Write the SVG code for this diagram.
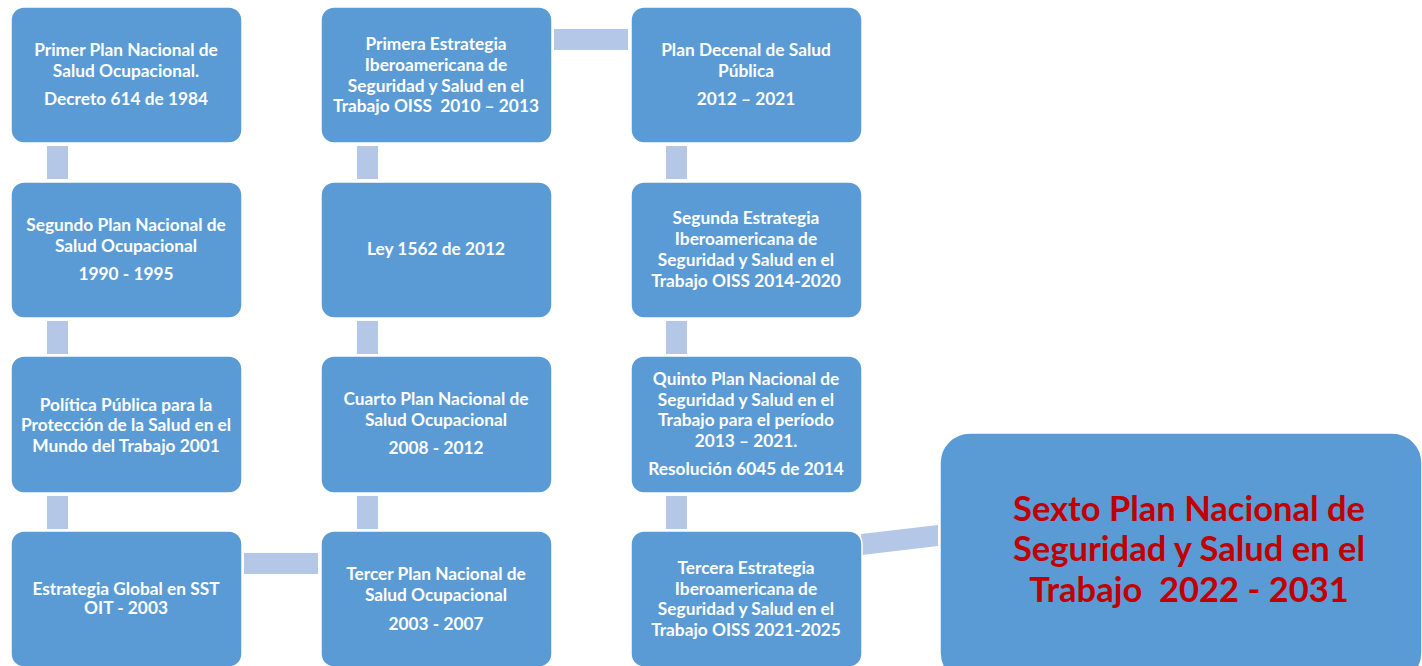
<svg xmlns="http://www.w3.org/2000/svg" width="1422" height="666" viewBox="0 0 1422 666">
<style>
.box{fill:#5b9bd5;stroke:#ffffff;stroke-width:1.5}
.con{fill:#b4c7e7}
.t{font-family:Lato,"Liberation Sans",sans-serif;font-weight:bold;font-size:17.3px;fill:#ffffff;text-anchor:middle}
.big{font-family:Lato,"Liberation Sans",sans-serif;font-weight:bold;font-size:34.5px;fill:#c00000;text-anchor:middle}
</style>
<rect width="1422" height="666" fill="#ffffff"/>
<g id="connectors">
<rect class="con" x="47" y="146" width="21" height="33"/>
<rect class="con" x="47" y="321" width="21" height="33"/>
<rect class="con" x="47" y="496" width="21" height="33"/>
<rect class="con" x="357" y="146" width="21" height="33"/>
<rect class="con" x="357" y="321" width="21" height="33"/>
<rect class="con" x="357" y="496" width="21" height="33"/>
<rect class="con" x="666" y="146" width="21" height="33"/>
<rect class="con" x="666" y="321" width="21" height="33"/>
<rect class="con" x="666" y="496" width="21" height="33"/>
<rect class="con" x="244" y="553" width="74" height="21"/>
<rect class="con" x="554" y="29" width="74" height="21"/>
<polygon class="con" points="861,534 938,525 938,546 862,555"/>
</g>
<g id="n1"><rect class="box" x="11" y="7" width="231" height="136" rx="13"/>
<text class="t" x="126" y="56">Primer Plan Nacional de</text>
<text class="t" x="126" y="77">Salud Ocupacional.</text>
<text class="t" x="126" y="105">Decreto 614 de 1984</text></g>
<g id="n2"><rect class="box" x="11" y="182" width="231" height="136" rx="13"/>
<text class="t" x="126" y="231">Segundo Plan Nacional de</text>
<text class="t" x="126" y="252">Salud Ocupacional</text>
<text class="t" x="126" y="280">1990 - 1995</text></g>
<g id="n3"><rect class="box" x="11" y="356" width="231" height="137" rx="13"/>
<text class="t" x="126" y="411">Política Pública para la</text>
<text class="t" x="126" y="431">Protección de la Salud en el</text>
<text class="t" x="126" y="452">Mundo del Trabajo 2001</text></g>
<g id="n4"><rect class="box" x="11" y="531" width="231" height="136" rx="13"/>
<text class="t" x="126" y="595">Estrategia Global en SST</text>
<text class="t" x="126" y="614">OIT - 2003</text></g>
<g id="n5"><rect class="box" x="321" y="531" width="231" height="136" rx="13"/>
<text class="t" x="436" y="580">Tercer Plan Nacional de</text>
<text class="t" x="436" y="601">Salud Ocupacional</text>
<text class="t" x="436" y="630">2003 - 2007</text></g>
<g id="n6"><rect class="box" x="321" y="356" width="231" height="137" rx="13"/>
<text class="t" x="436" y="405">Cuarto Plan Nacional de</text>
<text class="t" x="436" y="426">Salud Ocupacional</text>
<text class="t" x="436" y="454">2008 - 2012</text></g>
<g id="n7"><rect class="box" x="321" y="182" width="231" height="136" rx="13"/>
<text class="t" x="436" y="255">Ley 1562 de 2012</text></g>
<g id="n8"><rect class="box" x="321" y="7" width="231" height="136" rx="13"/>
<text class="t" x="436" y="50">Primera Estrategia</text>
<text class="t" x="436" y="71">Iberoamericana de</text>
<text class="t" x="436" y="92">Seguridad y Salud en el</text>
<text class="t" x="436" y="112" xml:space="preserve">Trabajo OISS  2010 – 2013</text></g>
<g id="n9"><rect class="box" x="631" y="7" width="231" height="136" rx="13"/>
<text class="t" x="746" y="56">Plan Decenal de Salud</text>
<text class="t" x="746" y="77">Pública</text>
<text class="t" x="746" y="105">2012 – 2021</text></g>
<g id="n10"><rect class="box" x="631" y="182" width="231" height="136" rx="13"/>
<text class="t" x="746" y="224">Segunda Estrategia</text>
<text class="t" x="746" y="245">Iberoamericana de</text>
<text class="t" x="746" y="266">Seguridad y Salud en el</text>
<text class="t" x="746" y="287">Trabajo OISS 2014-2020</text></g>
<g id="n11"><rect class="box" x="631" y="356" width="231" height="137" rx="13"/>
<text class="t" x="746" y="385">Quinto Plan Nacional de</text>
<text class="t" x="746" y="406">Seguridad y Salud en el</text>
<text class="t" x="746" y="426">Trabajo para el período</text>
<text class="t" x="746" y="447">2013 – 2021.</text>
<text class="t" x="746" y="475">Resolución 6045 de 2014</text></g>
<g id="n12"><rect class="box" x="631" y="531" width="231" height="136" rx="13"/>
<text class="t" x="746" y="574">Tercera Estrategia</text>
<text class="t" x="746" y="595">Iberoamericana de</text>
<text class="t" x="746" y="615">Seguridad y Salud en el</text>
<text class="t" x="746" y="636">Trabajo OISS 2021-2025</text></g>
<g id="n13"><rect class="box" x="940" y="433" width="482" height="250" rx="30"/>
<text class="big" x="1189" y="521">Sexto Plan Nacional de</text>
<text class="big" x="1189" y="561">Seguridad y Salud en el</text>
<text class="big" x="1189" y="602" xml:space="preserve">Trabajo  2022 - 2031</text></g>
</svg>
